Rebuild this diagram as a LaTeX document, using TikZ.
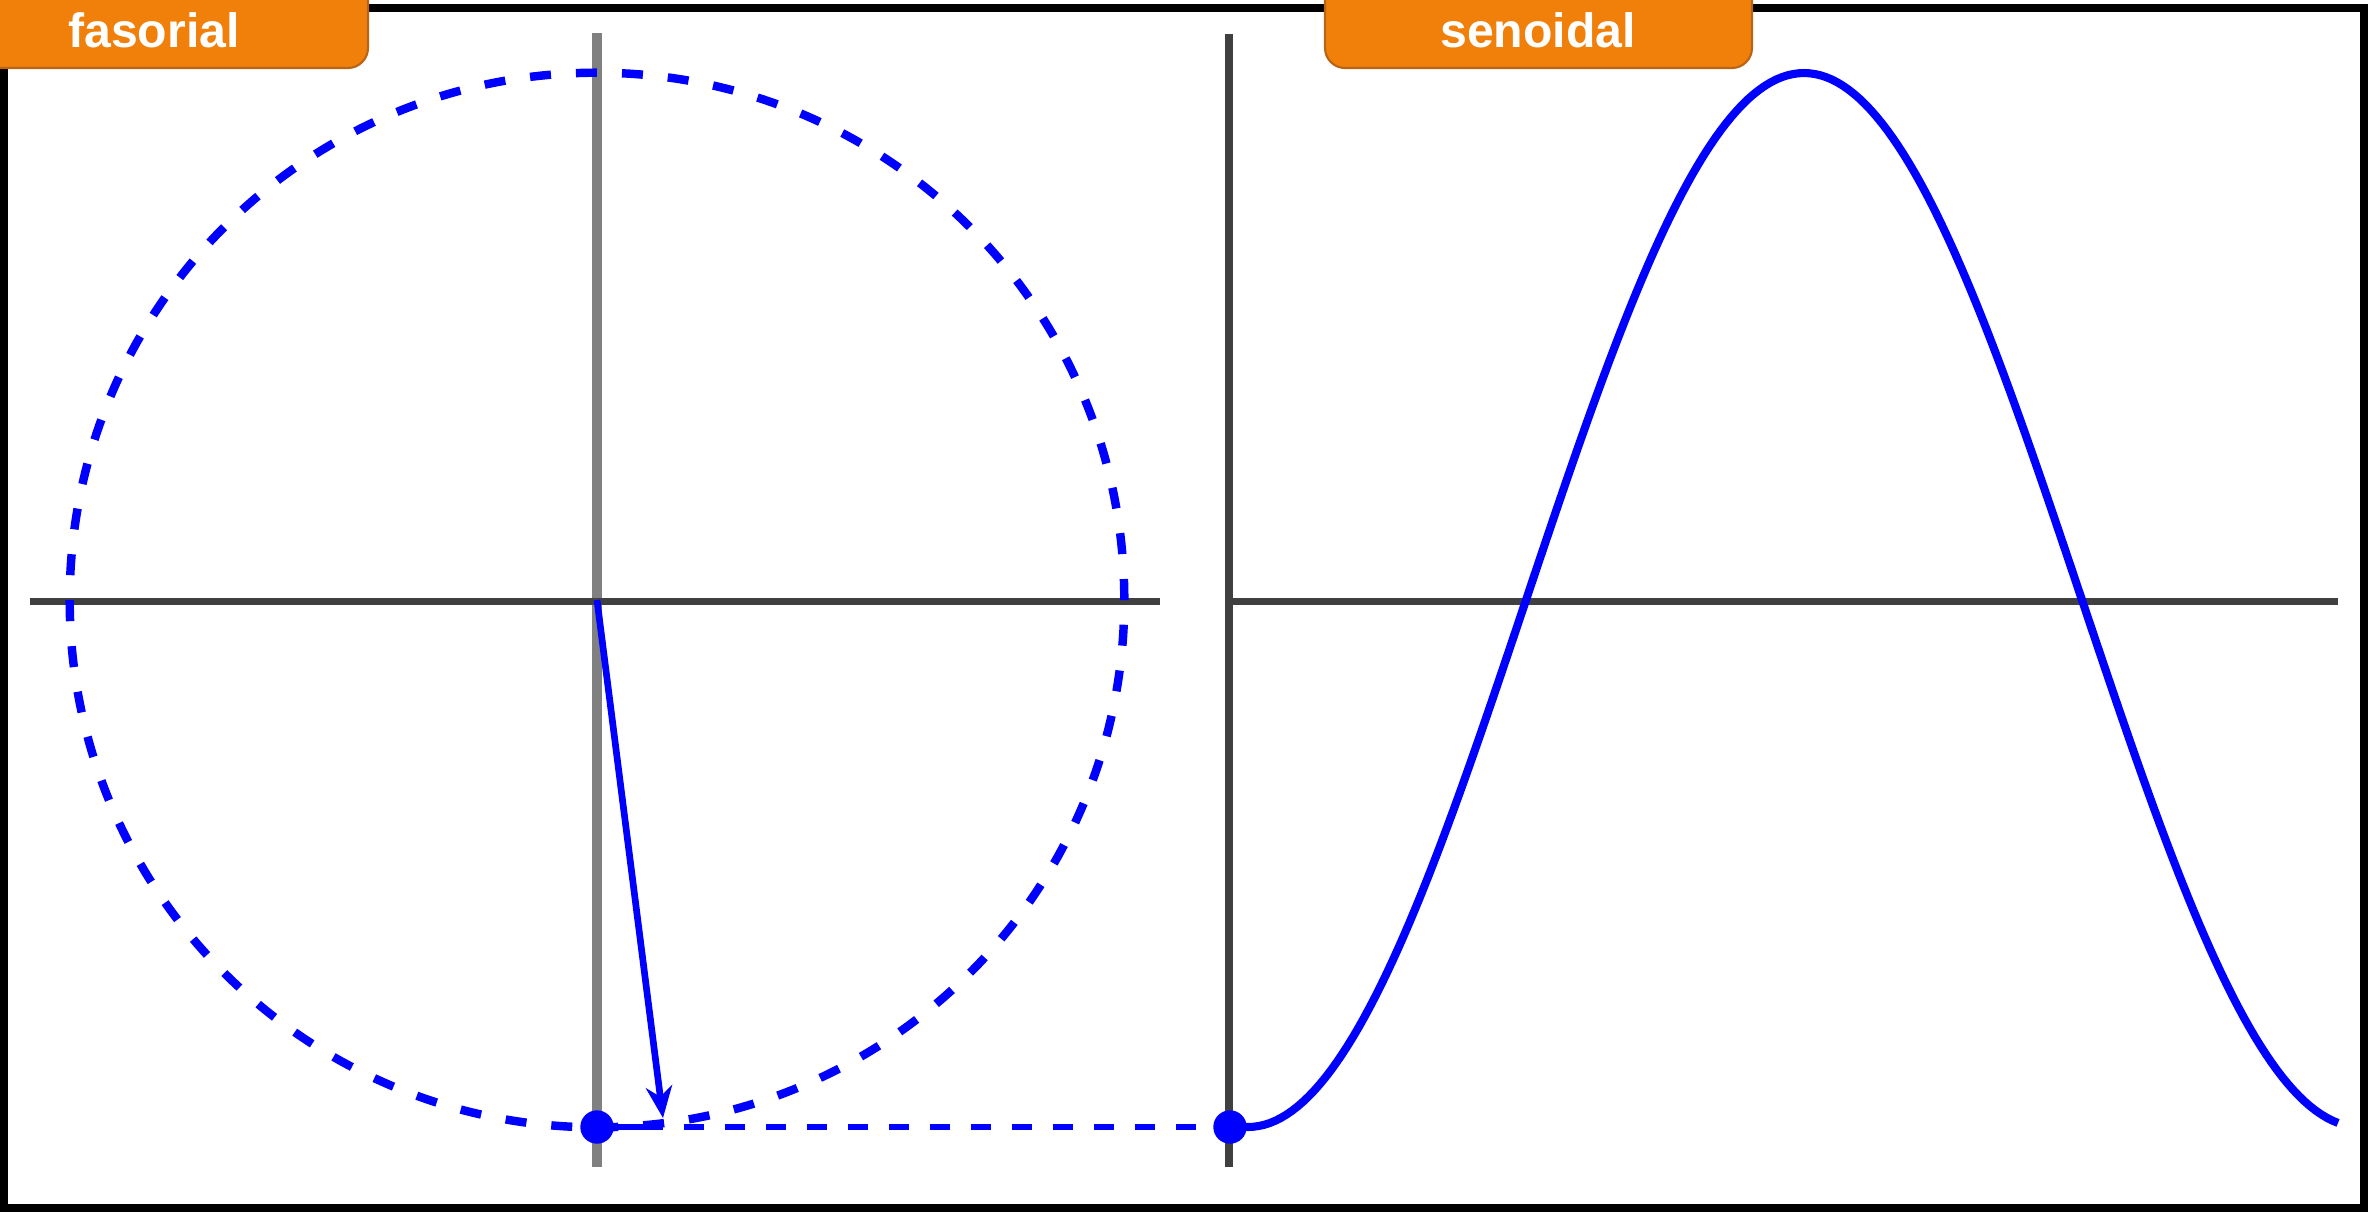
\documentclass[tikz,border=0pt]{standalone}
\usepackage{fontspec}
\newfontfamily\rotfont{Liberation Sans}
\usetikzlibrary{arrows.meta}
\definecolor{laranja}{RGB}{240,128,10}
\definecolor{borda}{RGB}{185,100,20}
\tikzset{
  moldura/.style = {draw=black, line width=2.3pt},
  aba/.style     = {fill=laranja, draw=borda, line width=0.6pt, rounded corners=5.7pt},
  rotulo/.style  = {text=white, font=\rotfont\bfseries\fontsize{13.7}{16}\selectfont, inner sep=0},
  eixo/.style    = {draw=black!75, line width=2pt},
  eixoc/.style   = {draw=black!50, line width=3pt},
  circulo/.style = {draw=blue, line width=2.4pt, dash pattern=on 0.21cm off 0.25cm},
  onda/.style    = {draw=blue, line width=2.3pt},
  fasor/.style   = {draw=blue, line width=1.9pt, -{Stealth[length=9pt,width=7.5pt]}},
  proj/.style    = {draw=blue, line width=1.8pt},
  ponto/.style   = {circle, fill=blue, minimum size=9.5pt, inner sep=0}
}
\begin{document}
\begin{tikzpicture}[x=0.01cm, y=-0.01cm]

  \clip (0,0) rectangle (2369,1211);
  \draw[moldura] (4,8) rectangle (2364,1208);

  \coordinate (O) at (597,600);
  \draw[eixoc] (597,33) -- (597,1167);
  \draw[eixo]  (30,601) -- (1160,601);
  \draw[eixo]  (1229,34) -- (1229,1167);
  \draw[eixo]  (1231,601) -- (2338,601);

  \draw[circulo] (O) circle [radius=5.27cm];
  \draw[onda, domain=1231:2338, samples=200] plot (\x, {600-527*sin((\x-1526)*0.323741)});

  \coordinate (P) at (663,1118);
  \coordinate (Q) at (663,1127);
  \draw[fasor] (O) -- (P);
  \node[ponto] (pL) at (597,1127) {};
  \node[ponto] (pR) at (1230,1127) {};
  \draw[proj] (pL) -- (Q);
  \draw[proj, dash pattern=on 0.2cm off 0.21cm, dash phase=0.2cm] (Q) -- (pR);

  \draw[aba] (-60,-40) rectangle (368,68);
  \node[rotulo, anchor=base] (tF) at (154,47) {fasorial};
  \draw[aba] (1325,-40) rectangle (1752,68);
  \node[rotulo, anchor=base] (tS) at (1538,47) {senoidal};

\end{tikzpicture}
\end{document}
